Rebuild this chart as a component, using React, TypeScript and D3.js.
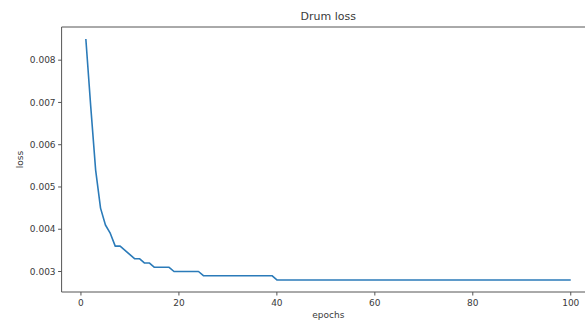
import { useMemo } from "react";
import * as d3 from "d3";

const title = "Drum loss";
const xTitle = "epochs";
const yTitle = "loss";

// loss per epoch (epochs 1..100)
const epochs: number[] = Array.from({ length: 100 }, (_, i) => i + 1);
const lossHead: number[] = [
  0.0085, 0.0069, 0.0054, 0.0045, 0.0041, 0.0039, 0.0036, 0.0036, 0.0035, 0.0034,
  0.0033, 0.0033, 0.0032, 0.0032, 0.0031, 0.0031, 0.0031, 0.0031, 0.003, 0.003,
  0.003, 0.003, 0.003, 0.003, 0.0029, 0.0029, 0.0029, 0.0029, 0.0029, 0.0029,
  0.0029, 0.0029, 0.0029, 0.0029, 0.0029, 0.0029, 0.0029, 0.0029, 0.0029,
];
const lossTail: number[] = Array(61).fill(0.0028);
const loss: number[] = [...lossHead, ...lossTail];

const xTickValues = [0, 20, 40, 60, 80, 100];
const yTickValues = [0.003, 0.004, 0.005, 0.006, 0.007, 0.008];

export default function App() {
  const width = 585;
  const height = 322;
  const box = { l: 61.6, r: 595, t: 27, b: 292 };
  const ink = "#3a3a3a";
  const spine = "#555";

  const { xScale, yScale, path } = useMemo(() => {
    const [x0, x1] = d3.extent(epochs) as [number, number];
    const [y0, y1] = d3.extent(loss) as [number, number];
    const mx = (x1 - x0) * 0.05;
    const my = (y1 - y0) * 0.05;
    const xScale = d3.scaleLinear().domain([x0 - mx, x1 + mx]).range([box.l, box.r]);
    const yScale = d3.scaleLinear().domain([y0 - my, y1 + my]).range([box.b, box.t]);
    const line = d3
      .line<number>()
      .x((_, i) => xScale(epochs[i]))
      .y((d) => yScale(d));
    return { xScale, yScale, path: line(loss) ?? "" };
  }, []);

  const font = "DejaVu Sans, sans-serif";

  return (
    <svg
      width={width}
      height={height}
      viewBox={`0 0 ${width} ${height}`}
      style={{ position: "absolute", left: 0, top: 0, background: "#fff" }}
    >
      <defs>
        <clipPath id="plot">
          <rect x={box.l} y={box.t} width={box.r - box.l} height={box.b - box.t} />
        </clipPath>
      </defs>
      <path
        d={path}
        fill="none"
        stroke="#2b7bb9"
        strokeWidth={1.6}
        strokeLinejoin="round"
        clipPath="url(#plot)"
      />
      {/* spines */}
      <line x1={box.l} y1={box.t} x2={box.r} y2={box.t} stroke={spine} strokeWidth={1} />
      <line x1={box.l} y1={box.b} x2={box.r} y2={box.b} stroke={spine} strokeWidth={1} />
      <line x1={box.l} y1={box.t} x2={box.l} y2={box.b} stroke={spine} strokeWidth={1} />
      <line x1={box.r} y1={box.t} x2={box.r} y2={box.b} stroke={spine} strokeWidth={1} />

      {xTickValues.map((t) => (
        <g key={t}>
          <line x1={xScale(t)} x2={xScale(t)} y1={box.b} y2={box.b + 3.5} stroke={spine} />
          <text x={xScale(t)} y={box.b + 14} textAnchor="middle" fontSize={9} fontFamily={font} fill={ink}>
            {t}
          </text>
        </g>
      ))}
      {yTickValues.map((t) => (
        <g key={t}>
          <line x1={box.l - 3.5} x2={box.l} y1={yScale(t)} y2={yScale(t)} stroke={spine} />
          <text
            x={box.l - 6}
            y={yScale(t) + 3.2}
            textAnchor="end"
            fontSize={9}
            fontFamily={font}
            fill={ink}
          >
            {t.toFixed(3)}
          </text>
        </g>
      ))}
      <text x={(box.l + box.r) / 2} y={20} textAnchor="middle" fontSize={11} fontFamily={font} fill={ink}>
        {title}
      </text>
      <text x={(box.l + box.r) / 2} y={318} textAnchor="middle" fontSize={9} fontFamily={font} fill={ink}>
        {xTitle}
      </text>
      <text
        transform={`translate(23,${(box.t + box.b) / 2}) rotate(-90)`}
        textAnchor="middle"
        fontSize={9}
        fontFamily={font}
        fill={ink}
      >
        {yTitle}
      </text>
    </svg>
  );
}
